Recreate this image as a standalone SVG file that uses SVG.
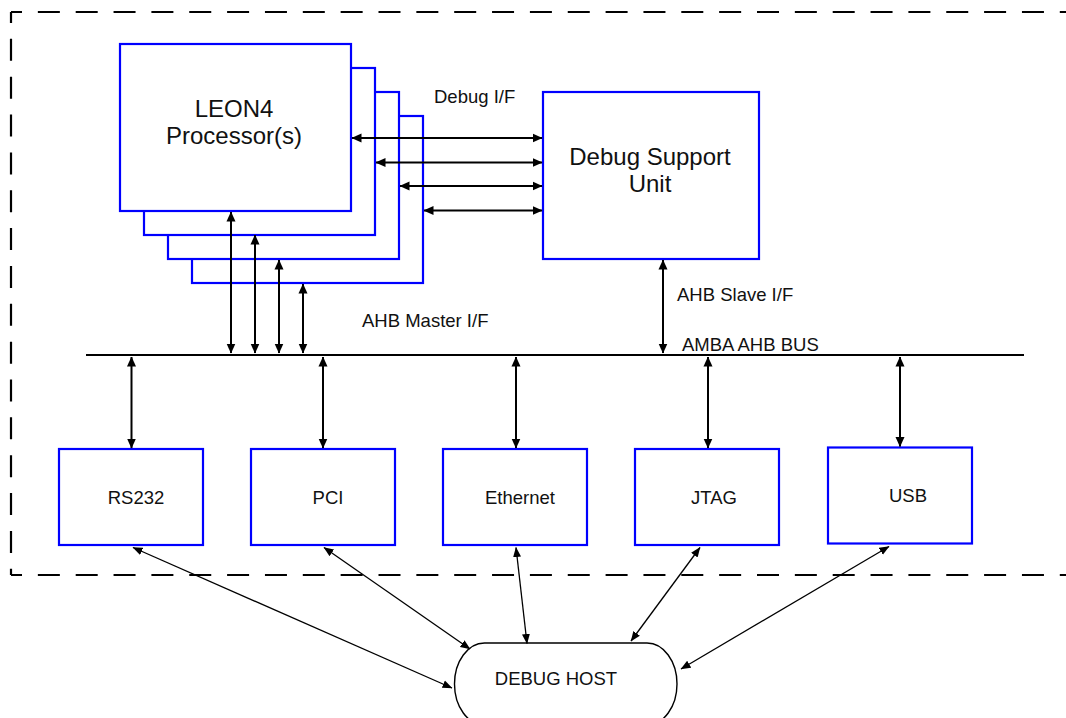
<svg xmlns="http://www.w3.org/2000/svg" width="1066" height="718" viewBox="0 0 1066 718">
<style>
  .box{fill:#fff;stroke:#0000ff;stroke-width:2.2}
  .dash{fill:none;stroke:#000;stroke-width:2.2;stroke-dasharray:22 15.85;stroke-dashoffset:11}
  .conn{fill:none;stroke:#000;stroke-width:2}
  .thin{fill:none;stroke:#000;stroke-width:1.3}
  .t{font-family:"Liberation Sans",Arial,sans-serif;fill:#111}
  .big{font-size:24px}
  .sm{font-size:18.5px}
  .mid{text-anchor:middle}
</style>
<defs>
  <marker id="ah" markerUnits="userSpaceOnUse" markerWidth="10" markerHeight="10" viewBox="0 0 10 10" refX="9.5" refY="5" orient="auto-start-reverse">
    <path d="M0,0.5 L10,5 L0,9.5 z" fill="#000"/>
  </marker>
  <marker id="ahs" markerUnits="userSpaceOnUse" markerWidth="10" markerHeight="9" viewBox="0 0 10 9" refX="9.5" refY="4.5" orient="auto-start-reverse">
    <path d="M0,0.5 L10,4.5 L0,8.5 z" fill="#000"/>
  </marker>
</defs>
<rect width="1066" height="718" fill="#fff"/>

<g id="boundary">
  <line class="dash" x1="11" y1="12" x2="1066" y2="12"/>
  <line class="dash" x1="11" y1="12" x2="11" y2="575"/>
  <line class="dash" x1="11" y1="575" x2="1066" y2="575"/>
</g>

<g id="leon4">
  <rect class="box" x="192" y="116" width="231" height="167"/>
  <rect class="box" x="168" y="92" width="231" height="167"/>
  <rect class="box" x="144" y="68" width="231" height="167"/>
  <rect class="box" x="120" y="44" width="231" height="167"/>
  <text class="t big mid" x="234" y="117">LEON4</text>
  <text class="t big mid" x="234" y="144">Processor(s)</text>
</g>

<g id="dsu">
  <rect class="box" x="543" y="92" width="216" height="167"/>
  <text class="t big mid" x="650" y="165">Debug Support</text>
  <text class="t big mid" x="650" y="192">Unit</text>
</g>

<g id="bus">
  <line x1="86" y1="355" x2="1024" y2="355" stroke="#000" stroke-width="2.2"/>
  <text class="t sm" x="682" y="351">AMBA AHB BUS</text>
</g>

<g id="rs232"><rect class="box" x="59" y="449" width="144" height="96"/><text class="t sm mid" x="136" y="503.5">RS232</text></g>
<g id="pci"><rect class="box" x="251" y="449" width="144" height="96"/><text class="t sm mid" x="328" y="503.5">PCI</text></g>
<g id="ethernet"><rect class="box" x="443" y="449" width="144" height="96"/><text class="t sm mid" x="520" y="503.5">Ethernet</text></g>
<g id="jtag"><rect class="box" x="635" y="449" width="144" height="96"/><text class="t sm mid" x="714" y="503.5">JTAG</text></g>
<g id="usb"><rect class="box" x="828" y="447.5" width="144" height="96"/><text class="t sm mid" x="908" y="502">USB</text></g>

<g id="debughost">
  <rect x="454.5" y="643" width="222.5" height="82" rx="30" ry="41" fill="#fff" stroke="#000" stroke-width="1.4"/>
  <text class="t sm mid" x="556" y="685">DEBUG HOST</text>
</g>

<g id="connectors">
  <line class="conn" x1="352" y1="138" x2="542" y2="138" marker-start="url(#ah)" marker-end="url(#ah)"/>
  <line class="conn" x1="376" y1="162.5" x2="542" y2="162.5" marker-start="url(#ah)" marker-end="url(#ah)"/>
  <line class="conn" x1="400" y1="186" x2="542" y2="186" marker-start="url(#ah)" marker-end="url(#ah)"/>
  <line class="conn" x1="424" y1="210.5" x2="542" y2="210.5" marker-start="url(#ah)" marker-end="url(#ah)"/>

  <line class="conn" x1="231" y1="212" x2="231" y2="353" marker-start="url(#ah)" marker-end="url(#ah)"/>
  <line class="conn" x1="255" y1="235" x2="255" y2="353" marker-start="url(#ah)" marker-end="url(#ah)"/>
  <line class="conn" x1="279" y1="260" x2="279" y2="353" marker-start="url(#ah)" marker-end="url(#ah)"/>
  <line class="conn" x1="303" y1="284" x2="303" y2="353" marker-start="url(#ah)" marker-end="url(#ah)"/>

  <line class="conn" x1="663" y1="260" x2="663" y2="353" marker-start="url(#ah)" marker-end="url(#ah)"/>

  <line class="conn" x1="131.5" y1="357" x2="131.5" y2="448" marker-start="url(#ah)" marker-end="url(#ah)"/>
  <line class="conn" x1="323" y1="357" x2="323" y2="448" marker-start="url(#ah)" marker-end="url(#ah)"/>
  <line class="conn" x1="516" y1="357" x2="516" y2="448" marker-start="url(#ah)" marker-end="url(#ah)"/>
  <line class="conn" x1="708" y1="357" x2="708" y2="448" marker-start="url(#ah)" marker-end="url(#ah)"/>
  <line class="conn" x1="900" y1="357" x2="900" y2="446.5" marker-start="url(#ah)" marker-end="url(#ah)"/>

  <line class="thin" x1="133" y1="547.5" x2="452" y2="688" marker-start="url(#ahs)" marker-end="url(#ahs)"/>
  <line class="thin" x1="324" y1="547.5" x2="470" y2="649" marker-start="url(#ahs)" marker-end="url(#ahs)"/>
  <line class="thin" x1="516" y1="547.5" x2="527" y2="643.5" marker-start="url(#ahs)" marker-end="url(#ahs)"/>
  <line class="thin" x1="700" y1="547.5" x2="631" y2="641" marker-start="url(#ahs)" marker-end="url(#ahs)"/>
  <line class="thin" x1="889" y1="546.5" x2="681" y2="669" marker-start="url(#ahs)" marker-end="url(#ahs)"/>
</g>

<g id="labels">
  <text class="t sm" x="434" y="103">Debug I/F</text>
  <text class="t sm" x="362" y="327">AHB Master I/F</text>
  <text class="t sm" x="677" y="301">AHB Slave I/F</text>
</g>
</svg>
